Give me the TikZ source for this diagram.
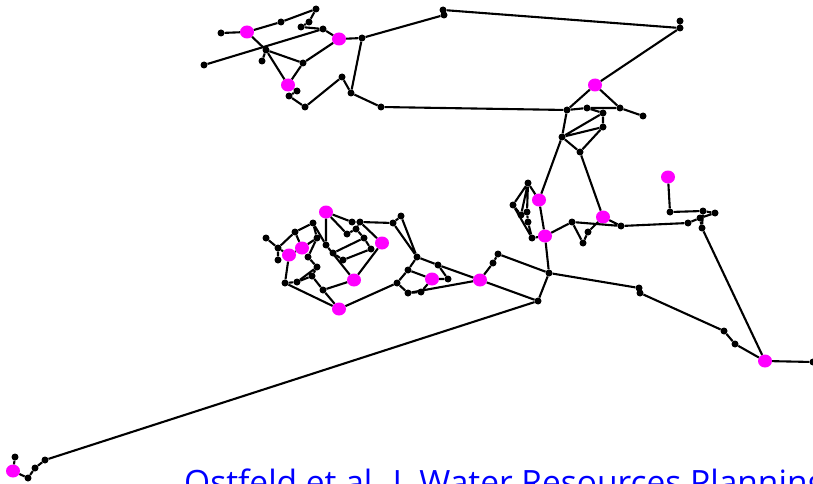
\documentclass[tikz,border=0pt]{standalone}
\usepackage{fontspec}
\setmainfont{Open Sans}
\usepackage{tikz}
\usetikzlibrary{shapes.geometric}
\definecolor{sensorpink}{RGB}{255,0,255}
\definecolor{citeblue}{RGB}{0,0,255}

\begin{document}
\begin{tikzpicture}[x=1pt,y=-1pt,
    jn/.style={circle, fill=black, inner sep=0pt, minimum size=7pt},
    sn/.style={ellipse, fill=sensorpink, inner sep=0pt, minimum width=14pt, minimum height=13pt},
    pipe/.style={line width=2.1pt, black}]
    \useasboundingbox (0,0) rectangle (813,484);
    \clip (0,0) rectangle (813,484);

    % north-west branch
    \node[jn] (a1) at (221,33) {};  \node[sn] (s1) at (247,32) {};
    \node[jn] (a2) at (281,22) {};  \node[jn] (a3) at (316,9) {};
    \node[jn] (a4) at (309,22) {};  \node[jn] (a5) at (301,27) {};
    \node[jn] (a6) at (323,29) {};  \node[sn] (s2) at (339,39) {};
    \node[jn] (a7) at (362,38) {};  \node[jn] (a8) at (266,50) {};
    \node[jn] (a9) at (262,61) {};  \node[jn] (a10) at (204,65) {};
    \node[jn] (a11) at (303,63) {}; \node[sn] (s3) at (288,85) {};
    \node[jn] (a12) at (297,91) {}; \node[jn] (a13) at (289,96) {};
    \node[jn] (a14) at (305,107) {};\node[jn] (a15) at (342,77) {};
    \node[jn] (a16) at (351,93) {}; \node[jn] (a17) at (381,107) {};

    % northern loop
    \node[jn] (t1) at (443,10) {};  \node[jn] (t2) at (444,15) {};
    \node[jn] (r1) at (680,21) {};  \node[jn] (r2) at (680,28) {};
    \node[sn] (s4) at (595,85) {};
    \node[jn] (b1) at (567,110) {}; \node[jn] (b2) at (587,108) {};
    \node[jn] (b3) at (603,113) {}; \node[jn] (b4) at (603,127) {};
    \node[jn] (b5) at (620,108) {}; \node[jn] (b6) at (643,116) {};
    \node[jn] (b7) at (562,137) {}; \node[jn] (b8) at (580,152) {};

    % east side
    \node[sn] (s5) at (539,200) {}; \node[sn] (s7) at (545,236) {};
    \node[jn] (u1) at (528,183) {}; \node[jn] (u2) at (513,205) {};
    \node[jn] (u3) at (521,215) {}; \node[jn] (u4) at (527,212) {};
    \node[jn] (u5) at (528,222) {}; \node[jn] (u6) at (532,238) {};
    \node[jn] (v1) at (572,222) {}; \node[jn] (v2) at (588,232) {};
    \node[jn] (v3) at (583,243) {}; \node[sn] (s6) at (603,217) {};
    \node[jn] (v4) at (621,226) {};
    \node[sn] (s8) at (668,177) {};
    \node[jn] (w1) at (688,223) {}; \node[jn] (w2) at (670,212) {};
    \node[jn] (w4) at (703,211) {}; \node[jn] (w5) at (715,213) {};
    \node[jn] (w6) at (700,218) {}; \node[jn] (w7) at (702,228) {};
    \node[sn] (s9) at (765,361) {}; \node[jn] (e1) at (813,362) {};
    \node[jn] (x1) at (735,344) {}; \node[jn] (x2) at (724,331) {};
    \node[jn] (x3) at (640,293) {}; \node[jn] (x4) at (639,288) {};
    \node[jn] (y1) at (549,273) {}; \node[jn] (y2) at (538,301) {};
    \node[jn] (y3) at (498,254) {}; \node[jn] (y4) at (493,263) {};
    \node[sn] (s10) at (480,280) {};

    % south-west end
    \node[jn] (z1) at (45,460) {};  \node[jn] (z2) at (35,468) {};
    \node[jn] (z3) at (28,478) {};  \node[sn] (s12) at (13,471) {};
    \node[jn] (z4) at (15,457) {};

    % central district
    \node[jn] (k1) at (266,238) {}; \node[jn] (k2) at (278,248) {};
    \node[jn] (k3) at (278,260) {}; \node[sn] (s13) at (289,255) {};
    \node[sn] (s14) at (302,248) {};\node[jn] (k4) at (295,232) {};
    \node[jn] (k5) at (313,223) {}; \node[jn] (k6) at (317,238) {};
    \node[jn] (k7) at (326,245) {}; \node[sn] (s15) at (326,212) {};
    \node[jn] (k8) at (352,222) {}; \node[jn] (k9) at (360,222) {};
    \node[jn] (k10) at (347,234) {};\node[jn] (k11) at (356,229) {};
    \node[jn] (k12) at (393,223) {};\node[jn] (k13) at (401,216) {};
    \node[sn] (s16) at (382,243) {};\node[jn] (k14) at (333,253) {};
    \node[jn] (k15) at (343,260) {};\node[jn] (k16) at (364,238) {};
    \node[jn] (k17) at (371,249) {};\node[jn] (k18) at (308,257) {};
    \node[jn] (k19) at (317,267) {};\node[jn] (k20) at (312,276) {};
    \node[jn] (k21) at (285,283) {};\node[jn] (k22) at (297,282) {};
    \node[jn] (k23) at (323,290) {};\node[sn] (s17) at (354,280) {};
    \node[sn] (s18) at (339,309) {};
    \node[jn] (k24) at (417,257) {};\node[jn] (k25) at (408,270) {};
    \node[jn] (k26) at (397,283) {};\node[jn] (k27) at (408,293) {};
    \node[jn] (k28) at (421,292) {};\node[sn] (s11) at (432,279) {};
    \node[jn] (k29) at (448,279) {};\node[jn] (k30) at (438,265) {};

    % pipes
    \draw[pipe] (a1) -- (s1) -- (a2) -- (a3) -- (a4) -- (a5) -- (a6) -- (s2) -- (a7);
    \draw[pipe] (a10) -- (a6);
    \draw[pipe] (s1) -- (a8) -- (s3) -- (a12) -- (a13) -- (a14) -- (a15) -- (a16) -- (a17);
    \draw[pipe] (a8) -- (a9);
    \draw[pipe] (a8) -- (a11) -- (s2);
    \draw[pipe] (a11) -- (s3);
    \draw[pipe] (a7) -- (a16);
    \draw[pipe] (a7) -- (t2) -- (t1) -- (r2) -- (r1);
    \draw[pipe] (r2) -- (s4) -- (b1);
    \draw[pipe] (s4) -- (b5) -- (b6);
    \draw[pipe] (a17) -- (b1) -- (b2) -- (b5);
    \draw[pipe] (b2) -- (b3) -- (b4) -- (b7) -- (b3);
    \draw[pipe] (b1) -- (b7) -- (s5) -- (s7) -- (y1);
    \draw[pipe] (b7) -- (b8) -- (b4);
    \draw[pipe] (b8) -- (s6);
    \draw[pipe] (s5) -- (u1) -- (u2) -- (u3) -- (u1) -- (u4) -- (u5) -- (u6) -- (u2);
    \draw[pipe] (u6) -- (s7);
    \draw[pipe] (s7) -- (v1) -- (v4) -- (s6) -- (v2) -- (v3) -- (v1);
    \draw[pipe] (v4) -- (w1) -- (w6) -- (w5) -- (w4) -- (w2) -- (s8);
    \draw[pipe] (w6) -- (w7) -- (s9) -- (e1);
    \draw[pipe] (w4) -- (w7);
    \draw[pipe] (s9) -- (x1) -- (x2) -- (x3) -- (x4) -- (y1);
    \draw[pipe] (y1) -- (y2) -- (s10) -- (y4) -- (y3) -- (y1);
    \draw[pipe] (y2) -- (z1) -- (z2) -- (z3) -- (s12) -- (z4);

    \draw[pipe] (k1) -- (k2) -- (s13) -- (s14) -- (k4) -- (k2) -- (k3);
    \draw[pipe] (k4) -- (k5) -- (k6) -- (s14);
    \draw[pipe] (k5) -- (k7);
    \draw[pipe] (s15) -- (k7) -- (s17) -- (s16);
    \draw[pipe] (s13) -- (k21) -- (s18) -- (k23) -- (s17);
    \draw[pipe] (k21) -- (k22) -- (k19) -- (k18) -- (k6);
    \draw[pipe] (k19) -- (k20) -- (k23);
    \draw[pipe] (k22) -- (k20);
    \draw[pipe] (s15) -- (k8) -- (k9) -- (k12) -- (k13) -- (k24) -- (k12);
    \draw[pipe] (s15) -- (k10) -- (k11) -- (k9) -- (s16);
    \draw[pipe] (k14) -- (k16) -- (k17) -- (k15) -- (k14);
    \draw[pipe] (k11) -- (k16);
    \draw[pipe] (s18) -- (k26);
    \draw[pipe] (k24) -- (k25) -- (k26) -- (k27) -- (s10);
    \draw[pipe] (k24) -- (k30) -- (s10);
    \draw[pipe] (k25) -- (s11) -- (k29) -- (k30);
    \draw[pipe] (k27) -- (k28) -- (s11);

    % reference line at the foot, cut by the frame
    \node[anchor=base west, inner sep=0pt, text=citeblue, font=\fontsize{33.5}{36}\selectfont]
        (cite) at (184,494) {Ostfeld et al. J. Water Resources Planning};
\end{tikzpicture}
\end{document}
